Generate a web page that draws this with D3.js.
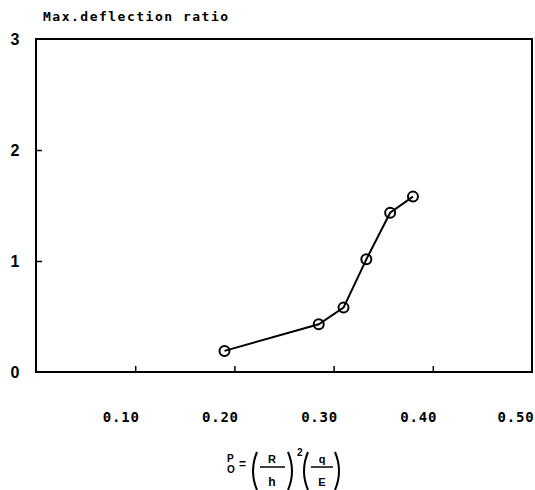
<!DOCTYPE html>
<html>
<head>
<meta charset="utf-8">
<script src="https://cdn.jsdelivr.net/npm/d3@7"></script>
<style>
  body { margin: 0; background: #fff; }
  svg { display: block; }
</style>
</head>
<body>
<svg id="chart" width="535" height="490"></svg>
<script>
// values
var pressure = [0.19, 0.285, 0.31, 0.333, 0.357, 0.38];   // Po
var deflection = [0.19, 0.43, 0.58, 1.015, 1.435, 1.58];  // max. deflection ratio
var xTicks = [0.10, 0.20, 0.30, 0.40, 0.50];
var yTicks = [0, 1, 2, 3];

var W = 535;
var svg = d3.select("#chart");
var plot = {left: 36, right: 532, top: 39, bottom: 372};

var x = d3.scaleLinear().domain([0, 0.5]).range([plot.left, plot.right]);
var y = d3.scaleLinear().domain([0, 3]).range([plot.bottom, plot.top]);

// frame
svg.append("rect")
	.attr("x", plot.left).attr("y", plot.top)
	.attr("width", plot.right - plot.left).attr("height", plot.bottom - plot.top)
	.attr("fill", "none").attr("stroke", "#000").attr("stroke-width", 2);

// x ticks point up into the plot, labels sit a bit left of them like in the scan
var xa = svg.append("g")
	.attr("transform", "translate(0," + plot.bottom + ")")
	.call(d3.axisBottom(x).tickValues(xTicks.slice(0, 4)).tickSize(-6).tickFormat(""));
xa.select(".domain").remove();
xa.selectAll("line").attr("stroke-width", 1.5);

svg.selectAll("text.xlab").data(xTicks).enter()
	.append("text")
	.attr("class", "xlab")
	.attr("x", d => Math.min(x(d) - 14, W - 19))
	.attr("y", 422)
	.attr("text-anchor", "middle")
	.style("font-family", "DejaVu Sans Mono")
	.style("font-weight", "bold")
	.style("font-size", "14px")
	.style("letter-spacing", "0.8px")
	.text(d => d3.format(".2f")(d));

// y ticks, also inward
var ya = svg.append("g")
	.attr("transform", "translate(" + plot.left + ",0)")
	.call(d3.axisLeft(y).tickValues([1, 2]).tickSize(-6).tickFormat(""));
ya.select(".domain").remove();
ya.selectAll("line").attr("stroke-width", 1.5);

svg.selectAll("text.ylab").data(yTicks).enter()
	.append("text")
	.attr("class", "ylab")
	.attr("x", 15)
	.attr("y", d => y(d) + 6)
	.attr("text-anchor", "middle")
	.style("font-family", "Liberation Sans")
	.style("font-weight", "bold")
	.style("font-size", "16px")
	.text(d => d);

// title
svg.append("text")
	.attr("x", 43).attr("y", 21)
	.style("font-family", "DejaVu Sans Mono")
	.style("font-weight", "bold")
	.style("font-size", "13px")
	.style("letter-spacing", "1.5px")
	.text("Max.deflection ratio");

// data line + open circles (line shows through them in the scan)
var pts = pressure.map((p, i) => [p, deflection[i]]);
svg.append("path")
	.datum(pts)
	.attr("fill", "none")
	.attr("stroke", "#000")
	.attr("stroke-width", 2)
	.attr("d", d3.line().x(d => x(d[0])).y(d => y(d[1])));

svg.selectAll("circle.pt").data(pts).enter()
	.append("circle")
	.attr("class", "pt")
	.attr("cx", d => x(d[0]))
	.attr("cy", d => y(d[1]))
	.attr("r", 5)
	.attr("fill", "none")
	.attr("stroke", "#000")
	.attr("stroke-width", 2);

// x axis title: Po = (R/h)^2 (q/E)
var f = svg.append("g")
	.style("font-family", "Liberation Sans")
	.style("font-weight", "bold")
	.attr("fill", "#000");
f.append("text").attr("x", 227).attr("y", 462).style("font-size", "10px").text("P");
f.append("text").attr("x", 227).attr("y", 473).style("font-size", "10px").text("O");
f.append("text").attr("x", 239).attr("y", 468).style("font-size", "12px").text("=");

function paren(x0, open) {
	var dx = open ? 5 : -5;
	f.append("path")
		.attr("d", "M" + (x0 + dx) + ",452 Q" + (x0 - dx * 0.6) + ",471 " + (x0 + dx) + ",490")
		.attr("fill", "none").attr("stroke", "#000").attr("stroke-width", 2);
}
paren(252, true);
f.append("text").attr("x", 272).attr("y", 463).attr("text-anchor", "middle").style("font-size", "11px").text("R");
f.append("line").attr("x1", 260).attr("x2", 285).attr("y1", 467).attr("y2", 467).attr("stroke", "#000").attr("stroke-width", 1.5);
f.append("text").attr("x", 272).attr("y", 486).attr("text-anchor", "middle").style("font-size", "12px").text("h");
paren(293, false);
f.append("text").attr("x", 297).attr("y", 456).style("font-size", "10px").text("2");
paren(303, true);
f.append("text").attr("x", 322).attr("y", 463).attr("text-anchor", "middle").style("font-size", "11px").text("q");
f.append("line").attr("x1", 311).attr("x2", 333).attr("y1", 467).attr("y2", 467).attr("stroke", "#000").attr("stroke-width", 1.5);
f.append("text").attr("x", 322).attr("y", 486).attr("text-anchor", "middle").style("font-size", "11px").text("E");
paren(340, false);
</script>
</body>
</html>
